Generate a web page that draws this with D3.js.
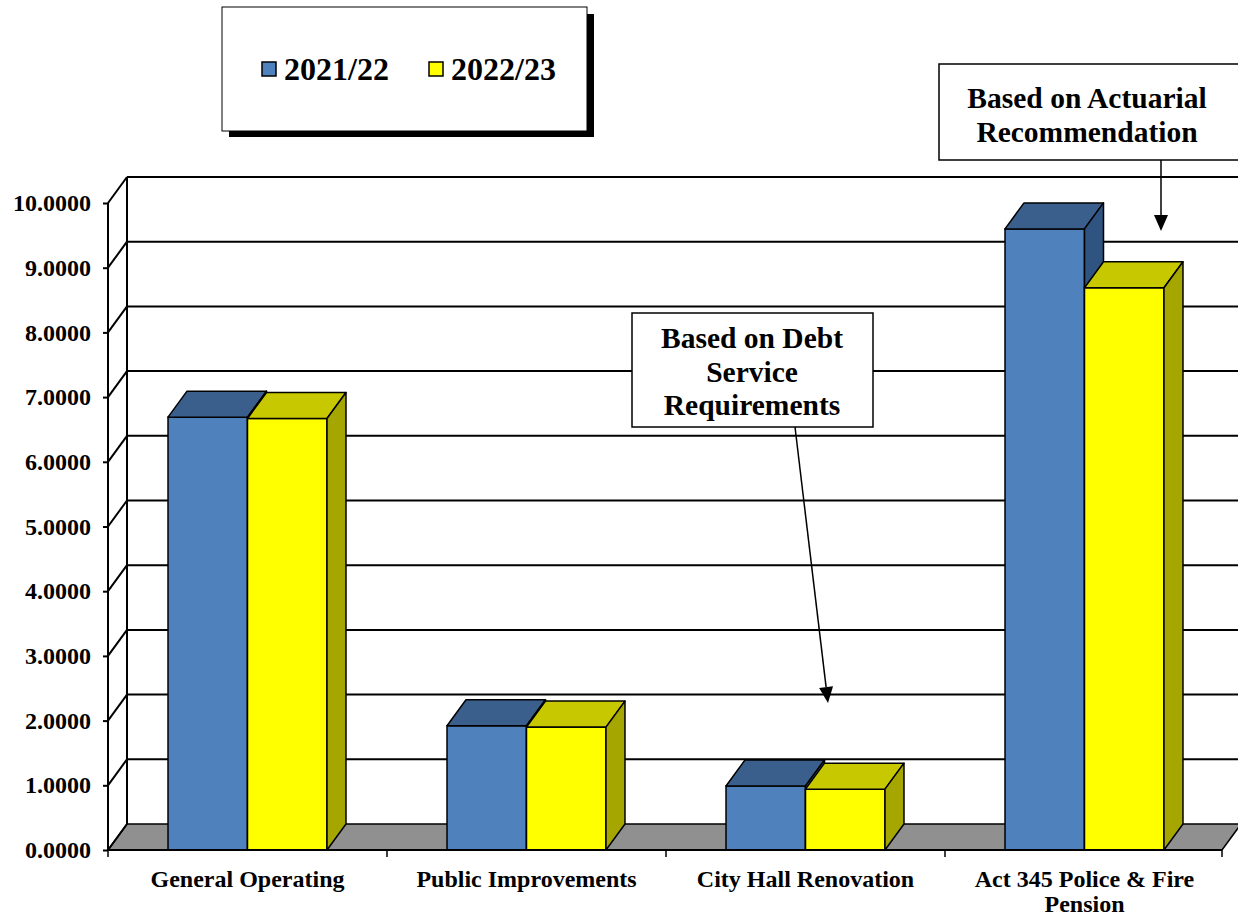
<!DOCTYPE html>
<html>
<head>
<meta charset="utf-8">
<script src="https://cdn.jsdelivr.net/npm/d3@7"></script>
<style>
  body { margin: 0; background: #fff; }
  svg { display: block; font-family: "Liberation Serif", "Times New Roman", serif; font-weight: bold; }
</style>
</head>
<body>
<div id="wrapper"></div>
<script>
const categories = ["General Operating", "Public Improvements", "City Hall Renovation", "Act 345 Police & Fire|Pension"]
const seriesNames = ["2021/22", "2022/23"]
const values2122 = [6.69, 1.92, 0.99, 9.60]
const values2223 = [6.67, 1.90, 0.94, 8.69]
const yTicks = [0, 1, 2, 3, 4, 5, 6, 7, 8, 9, 10]

const colors = {
    "2021/22": { front: "#4F81BD", top: "#3A5F8C", side: "#2F5481" },
    "2022/23": { front: "#FFFF00", top: "#C8C800", side: "#A6A600" },
}

const width = 1238
const height = 917
const depth = { dx: 19, dy: -26 }

const svg = d3.select("#wrapper").append("svg")
    .attr("width", width)
    .attr("height", height)

// scales
const yScale = d3.scaleLinear().domain([0, 10]).range([850, 203])
const xScale = d3.scaleBand().domain(categories).range([108, 1224])
const xInner = d3.scaleBand().domain(seriesNames).range([0, xScale.bandwidth()]).paddingOuter(0.755).paddingInner(0)

const x0 = xScale.range()[0]
const x1 = xScale.range()[1]

// floor
const yZero = yScale(0)
svg.append("path")
    .attr("d", `M${x0},${yZero} L${x1 - 2},${yZero} L${x1 - 2 + depth.dx},${yZero + depth.dy} L${x0 + depth.dx},${yZero + depth.dy} Z`)
    .attr("fill", "#909090")
    .attr("stroke", "#000")
    .attr("stroke-width", 1.5)

// back wall grid lines
svg.selectAll(".grid")
    .data(yTicks.slice(1))
    .join("line")
    .attr("x1", x0 + depth.dx)
    .attr("x2", width)
    .attr("y1", d => yScale(d) + depth.dy)
    .attr("y2", d => yScale(d) + depth.dy)
    .attr("stroke", "#000")
    .attr("stroke-width", 2)

// back wall left edge
svg.append("line")
    .attr("x1", x0 + depth.dx).attr("x2", x0 + depth.dx)
    .attr("y1", yScale(10) + depth.dy).attr("y2", yZero + depth.dy)
    .attr("stroke", "#000").attr("stroke-width", 2)

// side wall diagonals
svg.selectAll(".diag")
    .data(yTicks)
    .join("line")
    .attr("x1", x0)
    .attr("x2", x0 + depth.dx)
    .attr("y1", d => yScale(d))
    .attr("y2", d => yScale(d) + depth.dy)
    .attr("stroke", "#000")
    .attr("stroke-width", 2)

// bars
const bars = []
categories.forEach((c, i) => {
    bars.push({ cat: c, series: "2021/22", value: values2122[i] })
    bars.push({ cat: c, series: "2022/23", value: values2223[i] })
})

const barG = svg.append("g")
bars.forEach(b => {
    const bx = xScale(b.cat) + xInner(b.series)
    const bw = xInner.bandwidth()
    const by = yScale(b.value)
    const col = colors[b.series]
    const g = barG.append("g")
    g.append("rect")
        .attr("x", bx).attr("y", by)
        .attr("width", bw).attr("height", yZero - by)
        .attr("fill", col.front)
        .attr("stroke", "#000").attr("stroke-width", 1.5)
    g.append("path")
        .attr("d", `M${bx},${by} L${bx + depth.dx},${by + depth.dy} L${bx + bw + depth.dx},${by + depth.dy} L${bx + bw},${by} Z`)
        .attr("fill", col.top)
        .attr("stroke", "#000").attr("stroke-width", 1.5).attr("stroke-linejoin", "round")
    g.append("path")
        .attr("d", `M${bx + bw},${by} L${bx + bw + depth.dx},${by + depth.dy} L${bx + bw + depth.dx},${yZero + depth.dy} L${bx + bw},${yZero} Z`)
        .attr("fill", col.side)
        .attr("stroke", "#000").attr("stroke-width", 1.5).attr("stroke-linejoin", "round")
})

// y axis
const yAxis = svg.append("g")
    .attr("transform", `translate(${x0},0)`)
    .call(d3.axisLeft(yScale).tickValues(yTicks).tickSize(5).tickPadding(12).tickFormat(d3.format(".4f")))
yAxis.select(".domain").attr("stroke-width", 2).attr("d", `M0,${yScale(10)}V${yZero}`)
yAxis.selectAll(".tick line").attr("stroke-width", 2)
yAxis.selectAll("text")
    .attr("font-family", "Liberation Serif, serif")
    .attr("font-weight", "bold")
    .attr("font-size", 24)
    .attr("fill", "#000")

// x axis
svg.append("line")
    .attr("x1", x0).attr("x2", x1 - 2)
    .attr("y1", yZero).attr("y2", yZero)
    .attr("stroke", "#000").attr("stroke-width", 2)
const boundaries = categories.map(c => xScale(c)).concat([x1 - 2])
svg.selectAll(".xtick")
    .data(boundaries)
    .join("line")
    .attr("x1", d => d).attr("x2", d => d)
    .attr("y1", yZero).attr("y2", yZero + 7)
    .attr("stroke", "#000").attr("stroke-width", 1.5)

svg.selectAll(".xlabel")
    .data(categories)
    .join("text")
    .attr("text-anchor", "middle")
    .attr("font-size", 24)
    .attr("x", d => xScale(d) + xScale.bandwidth() / 2)
    .attr("y", 887)
    .each(function (d) {
        const lines = d.split("|")
        d3.select(this).selectAll("tspan")
            .data(lines)
            .join("tspan")
            .attr("x", xScale(d) + xScale.bandwidth() / 2)
            .attr("dy", (l, i) => i === 0 ? 0 : 25)
            .text(l => l)
    })

// legend
const legend = svg.append("g")
legend.append("rect").attr("x", 229).attr("y", 14).attr("width", 365).attr("height", 123).attr("fill", "#000")
legend.append("rect").attr("x", 222).attr("y", 7).attr("width", 365).attr("height", 124)
    .attr("fill", "#fff").attr("stroke", "#000").attr("stroke-width", 1)
const legendItems = [{ name: "2021/22", x: 262 }, { name: "2022/23", x: 429 }]
legendItems.forEach(it => {
    legend.append("rect").attr("x", it.x).attr("y", 62).attr("width", 14).attr("height", 14)
        .attr("fill", colors[it.name].front).attr("stroke", "#000").attr("stroke-width", 1.5)
    legend.append("text").attr("x", it.x + 22).attr("y", 80).attr("font-size", 32).text(it.name)
})

// annotations
function callout(box, lines, lineY, cx, arrow) {
    const g = svg.append("g")
    g.append("rect").attr("x", box[0]).attr("y", box[1]).attr("width", box[2]).attr("height", box[3])
        .attr("fill", "#fff").attr("stroke", "#000").attr("stroke-width", 1.5)
    lines.forEach((l, i) => {
        g.append("text").attr("x", cx).attr("y", lineY[i]).attr("text-anchor", "middle")
            .attr("font-size", 29.5).text(l)
    })
    const [ax1, ay1, ax2, ay2] = arrow
    const ang = Math.atan2(ay2 - ay1, ax2 - ax1)
    const hl = 16, hw = 7
    const bx = ax2 - hl * Math.cos(ang), by = ay2 - hl * Math.sin(ang)
    g.append("line").attr("x1", ax1).attr("y1", ay1).attr("x2", bx).attr("y2", by)
        .attr("stroke", "#000").attr("stroke-width", 1.5)
    g.append("path")
        .attr("d", `M${ax2},${ay2} L${bx - hw * Math.sin(ang)},${by + hw * Math.cos(ang)} L${bx + hw * Math.sin(ang)},${by - hw * Math.cos(ang)} Z`)
        .attr("fill", "#000")
}

callout([939, 64, 310, 96], ["Based on Actuarial", "Recommendation"], [108, 142], 1087, [1161, 160, 1161, 231])
callout([632, 313, 241, 114], ["Based on Debt", "Service", "Requirements"], [348, 382, 415], 752, [795, 427, 828, 703])
</script>
</body>
</html>
